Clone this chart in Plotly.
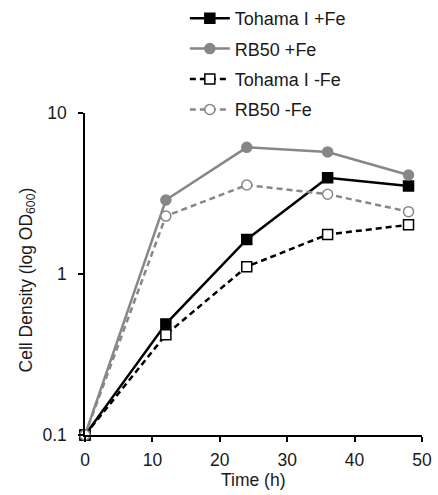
import plotly.graph_objects as go

time_h = [0, 12, 24, 36, 48]
tohama_fe = [0.1, 0.49, 1.64, 3.96, 3.52]
rb50_fe = [0.1, 2.88, 6.12, 5.73, 4.12]
tohama_nofe = [0.1, 0.42, 1.11, 1.76, 2.02]
rb50_nofe = [0.1, 2.29, 3.57, 3.13, 2.44]

GRAY = "#878787"
FONT = "Liberation Sans, Arial, sans-serif"
series = [
    ("Tohama I +Fe", tohama_fe, "black", "solid", "square", "black"),
    ("RB50 +Fe", rb50_fe, GRAY, "solid", "circle", GRAY),
    ("Tohama I -Fe", tohama_nofe, "black", "6px,4px", "square", "white"),
    ("RB50 -Fe", rb50_nofe, GRAY, "6px,4px", "circle", "white"),
]

fig = go.Figure()
for i, (name, vals, col, dash, sym, fill) in enumerate(series):
    fig.add_trace(go.Scatter(
        x=time_h, y=vals, name=name, mode="lines+markers",
        legendgroup=f"g{i}",
        line=dict(color=col, width=2.5, dash=dash),
        marker=dict(symbol=sym, size=10, color=fill, line=dict(color=col, width=1.5)),
        cliponaxis=False,
    ))

fig.update_layout(
    width=438, height=495,
    margin=dict(l=85, r=15.5, t=113, b=60, autoexpand=False),
    paper_bgcolor="white", plot_bgcolor="white",
    font=dict(family=FONT, size=17.5, color="#1a1a1a"),
    showlegend=True,
    legend=dict(xref="container", yref="container", x=0.422, y=1.0,
                xanchor="left", yanchor="top",
                font=dict(size=18), tracegroupgap=4, bgcolor="rgba(0,0,0,0)",
                itemwidth=40),
    annotations=[
        dict(text="Cell Density (log OD<sub>600</sub>)", xref="paper", yref="paper",
             x=-0.172, y=0.48, xanchor="center", yanchor="middle", textangle=-90,
             showarrow=False, font=dict(size=17.5, family=FONT, color="#1a1a1a")),
        dict(text="Time (h)", xref="paper", yref="paper",
             x=0.5, y=-0.14, xanchor="center", yanchor="middle",
             showarrow=False, font=dict(size=17.5, family=FONT, color="#1a1a1a")),
    ],
)
fig.update_xaxes(
    range=[0, 50], tickvals=[0, 10, 20, 30, 40, 50],
    showline=True, linecolor="black", linewidth=1.5,
    ticks="outside", ticklen=5, tickcolor="black", tickwidth=1.5,
    showgrid=False, zeroline=False, automargin=False, ticklabelstandoff=3,
)
fig.update_yaxes(
    type="log", range=[-1, 1], tickvals=[0.1, 1, 10], ticktext=["0.1", "1", "10"],
    showline=True, linecolor="black", linewidth=1.5,
    ticks="outside", ticklen=5, tickcolor="black", tickwidth=1.5,
    showgrid=False, zeroline=False, automargin=False, ticklabelstandoff=8,
)

fig.write_html("out.html", config={"displayModeBar": False},
               post_script="document.body.style.margin='0';")
